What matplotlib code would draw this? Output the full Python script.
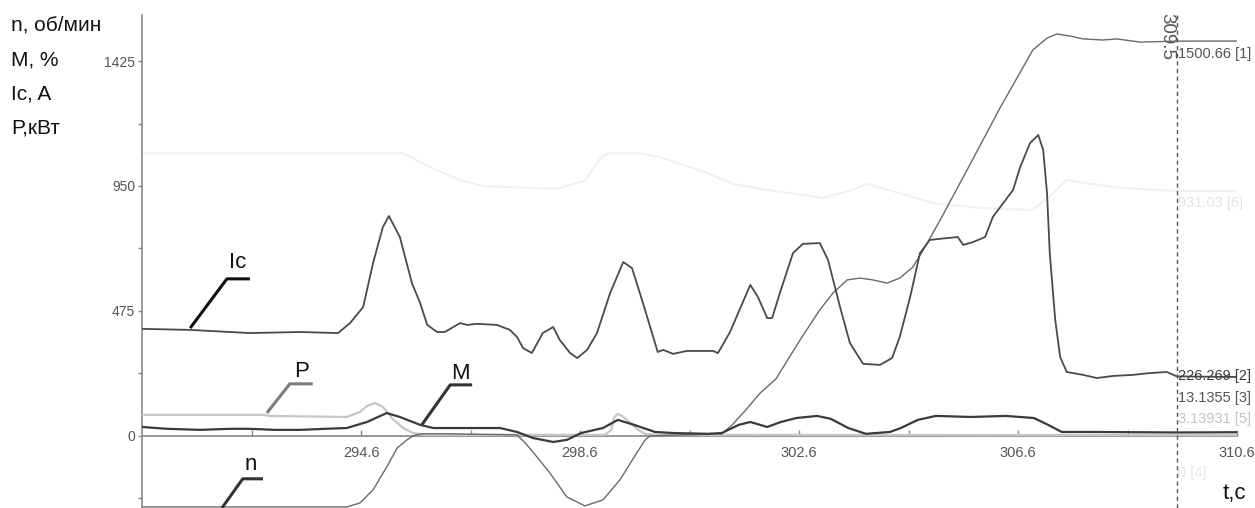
import matplotlib
matplotlib.use("Agg")
import matplotlib.pyplot as plt

plt.rcParams['font.family'] = ['Liberation Sans', 'DejaVu Sans']

# ---- recorded channels, time in seconds ----
# [2] stator current Ic, A
ic_time = [290.60, 291.48, 292.57, 293.49, 294.18, 294.40, 294.64, 294.82, 295.00, 295.11,
           295.31, 295.53, 295.68, 295.81, 295.99, 296.13, 296.41, 296.54, 296.72, 297.08,
           297.32, 297.45, 297.56, 297.72, 297.92, 298.11, 298.23, 298.42, 298.55, 298.73,
           298.91, 299.15, 299.39, 299.55, 299.75, 300.02, 300.12, 300.30, 300.55, 301.03,
           301.12, 301.34, 301.71, 301.85, 302.02, 302.11, 302.25, 302.49, 302.67, 302.98,
           303.13, 303.35, 303.53, 303.77, 304.08, 304.30, 304.44, 304.63, 304.81, 304.99,
           305.30, 305.50, 305.60, 305.78, 306.00, 306.14, 306.33, 306.51, 306.64, 306.82,
           306.97, 307.06, 307.13, 307.18, 307.28, 307.37, 307.49, 307.79, 308.04, 308.34,
           308.70, 309.01, 309.32, 309.50, 310.60]
ic_amp = [407, 403, 391, 395, 391, 429, 490, 657, 794, 836,
          756, 581, 505, 422, 395, 395, 429, 422, 426, 422,
          403, 376, 334, 315, 391, 414, 365, 315, 296, 327,
          391, 543, 661, 638, 505, 319, 327, 312, 323, 323,
          315, 395, 574, 528, 448, 448, 543, 695, 730, 733,
          669, 490, 353, 274, 270, 296, 376, 528, 695, 745,
          752, 756, 726, 737, 756, 832, 885, 935, 1022, 1113,
          1144, 1087, 923, 695, 441, 300, 243, 232, 220, 228,
          232, 239, 243, 226.269, 224]

# [1] speed n, rpm
n_time = [290.60, 294.34, 294.58, 294.82, 295.07, 295.26, 295.44, 295.55, 295.68, 296.17,
          297.45, 297.60, 297.74, 298.05, 298.36, 298.69, 299.02, 299.33, 299.59, 299.79,
          299.88, 301.19, 301.38, 301.63, 301.89, 302.18, 302.62, 302.98, 303.22, 303.48,
          303.71, 303.95, 304.21, 304.44, 304.68, 304.87, 305.18, 305.67, 306.27, 306.87,
          307.13, 307.31, 307.55, 307.79, 308.15, 308.41, 308.83, 309.50, 310.60]
n_rpm = [-270, -270, -255, -205, -118, -46, -15, 0, 8, 8,
         4, -27, -61, -141, -232, -266, -243, -167, -80, -15,
         0, 8, 42, 99, 163, 217, 365, 479, 543, 593,
         600, 593, 581, 600, 642, 707, 821, 1011, 1246, 1467,
         1512, 1528, 1520, 1509, 1505, 1509, 1497, 1500.66, 1501]

# [3] torque M, %
m_time = [290.60, 291.06, 291.66, 292.21, 292.57, 293.03, 293.49, 293.94, 294.34, 294.71,
          295.07, 295.31, 295.68, 295.92, 297.14, 297.45, 297.74, 298.11, 298.36, 298.62,
          299.02, 299.29, 299.59, 299.97, 300.30, 300.94, 301.19, 301.50, 301.71, 302.02,
          302.27, 302.55, 302.93, 303.18, 303.50, 303.82, 304.26, 304.46, 304.77, 305.10,
          305.74, 306.38, 306.89, 307.15, 307.40, 307.99, 309.50, 310.60]
m_pct = [34, 27, 23, 27, 27, 23, 23, 27, 30, 53,
         87, 72, 42, 30, 30, 15, -8, -23, -15, 11,
         30, 61, 42, 15, 11, 8, 11, 42, 53, 34,
         53, 68, 76, 65, 30, 8, 15, 30, 61, 76,
         72, 76, 68, 42, 15, 15, 13.1355, 14]

# [5] power P, kW
p_time = [290.60, 292.81, 292.94, 294.34, 294.58, 294.71, 294.86, 295.00, 295.18, 295.37,
          295.55, 295.77, 299.06, 299.17, 299.22, 299.28, 299.37, 299.46, 299.66, 299.79,
          300.06, 309.50, 310.60]
p_kw = [80, 80, 76, 72, 91, 114, 125, 110, 65, 30,
        11, 4, 4, 23, 68, 84, 76, 61, 23, 8,
        4, 3.13931, 3]

# [6] auxiliary channel (drawn faint)
s6_time = [290.60, 295.37, 295.86, 296.46, 296.83, 298.16, 298.69, 299.00, 299.15, 299.66,
           300.06, 300.88, 301.39, 302.02, 303.04, 303.57, 303.84, 304.44, 305.05, 305.96,
           306.87, 307.24, 307.49, 307.79, 308.46, 309.50, 310.60]
s6_val = [1075, 1075, 1022, 969, 950, 939, 969, 1064, 1075, 1075,
          1060, 1003, 958, 935, 905, 935, 958, 923, 885, 866,
          859, 923, 973, 962, 943, 931.03, 931]

# [4] auxiliary channel (flat)
s4_time = [290.60, 310.60]
s4_val = [0, 0]

# ---- axes / ticks ----
x_range = (290.6, 310.6)
y_range = (-274, 1600)
x_major = [294.6, 298.6, 302.6, 306.6, 310.6]
x_major_labels = ['294.6', '298.6', '302.6', '306.6', '310.6']
x_minor = [292.6, 296.6, 300.6, 304.6, 308.6]
y_major = [0, 475, 950, 1425]
y_major_labels = ['0', '475', '950', '1425']
y_minor = [-237.5, 237.5, 712.5, 1187.5]
cursor_t = 309.5

fig = plt.figure(figsize=(12.55, 5.08), dpi=100)
ax = fig.add_axes([142 / 1255, 0.0, (1237 - 142) / 1255, 1 - 15 / 508])
ax.set_xlim(*x_range)
ax.set_ylim(*y_range)

ax.plot(s6_time, s6_val, color='#f0f0f0', lw=1.5, zorder=1)
ax.plot(s4_time, s4_val, color='#eeeeee', lw=1.0, zorder=1)
ax.plot(p_time, p_kw, color='#c6c6c6', lw=1.6, zorder=3)
ax.plot(n_time, n_rpm, color='#6a6a6a', lw=1.0, zorder=4)
ax.plot(ic_time, ic_amp, color='#4a4a4a', lw=1.3, zorder=4)
ax.plot(m_time, m_pct, color='#3a3a3a', lw=1.6, zorder=5)

for side in ('top', 'right'):
    ax.spines[side].set_visible(False)
ax.spines['bottom'].set_position(('data', 0))
ax.spines['bottom'].set_color('#8a8a8a')
ax.spines['left'].set_color('#8a8a8a')
ax.spines['bottom'].set_linewidth(1.2)
ax.spines['left'].set_linewidth(1.2)

ax.set_xticks(x_major)
ax.set_xticklabels(x_major_labels)
ax.set_xticks(x_minor, minor=True)
ax.set_yticks(y_major)
ax.set_yticklabels(y_major_labels)
ax.set_yticks(y_minor, minor=True)
ax.tick_params(axis='x', which='both', direction='in', length=4, width=1,
               color='#8a8a8a', pad=7, labelsize=10.5, labelcolor='#555555')
ax.tick_params(axis='y', which='both', direction='out', length=3, width=1,
               color='#8a8a8a', pad=2, labelsize=10, labelcolor='#555555')
ax.patch.set_visible(False)

# measurement cursor
ax.axvline(cursor_t, color='#555555', lw=1.0, ls=(0, (3, 2.5)), zorder=6)
ax.annotate(str(cursor_t), xy=(cursor_t, 1.0), xycoords=('data', 'axes fraction'),
            xytext=(-1, 1.5), textcoords='offset points', rotation=-90,
            ha='right', va='top', fontsize=13.5, color='#555555',
            annotation_clip=False)

# channel readouts at the cursor
readouts = [
    (1500.66, '[1]', -9.5, '#555555'),
    (931.03, '[6]', -8.5, '#e4e4e4'),
    (226.269, '[2]', 0.0, '#3c3c3c'),
    (13.1355, '[3]', 24.5, '#555555'),
    (3.13931, '[5]', 11.5, '#c4c4c4'),
    (0, '[4]', -27.0, '#e8e8e8'),
]
for value, tag, dy, col in readouts:
    ax.annotate(f'{value} {tag}', xy=(cursor_t, value), xytext=(1.2, dy),
                textcoords='offset points', ha='left', va='center',
                fontsize=10.5, color=col, annotation_clip=False, zorder=7)

# curve callouts: label, tip, elbow, end, label position, colour
callouts = [
    ('Ic', (291.48, 410), (292.15, 597), (292.57, 597), (292.35, 661), '#111111'),
    ('P', (292.88, 87), (293.30, 198), (293.72, 198), (293.52, 243), '#7c7c7c'),
    ('M', (295.71, 42), (296.23, 194), (296.63, 194), (296.41, 239), '#333333'),
    ('n', (292.06, -274), (292.44, -163), (292.81, -163), (292.59, -110), '#333333'),
]
for name, tip, elbow, end, lab, col in callouts:
    ax.plot([tip[0], elbow[0], end[0]], [tip[1], elbow[1], end[1]],
            color=col, lw=2.2, solid_capstyle='butt', clip_on=False, zorder=8)
    ax.text(lab[0], lab[1], name, ha='center', va='center', fontsize=16,
            color='#111111', zorder=8)

# channel names and units
units = ['n, об/мин', 'M, %', 'Ic, A', 'P,кВт']
for i, txt in enumerate(units):
    fig.text(11 / 1255, 1 - (25 + 34.5 * i) / 508, txt, ha='left', va='center',
             fontsize=15, color='#111111')
fig.text(1234 / 1255, 1 - 493 / 508, 't,c', ha='center', va='center',
         fontsize=16, color='#111111')

fig.savefig('out.png', dpi=100, facecolor='white')
